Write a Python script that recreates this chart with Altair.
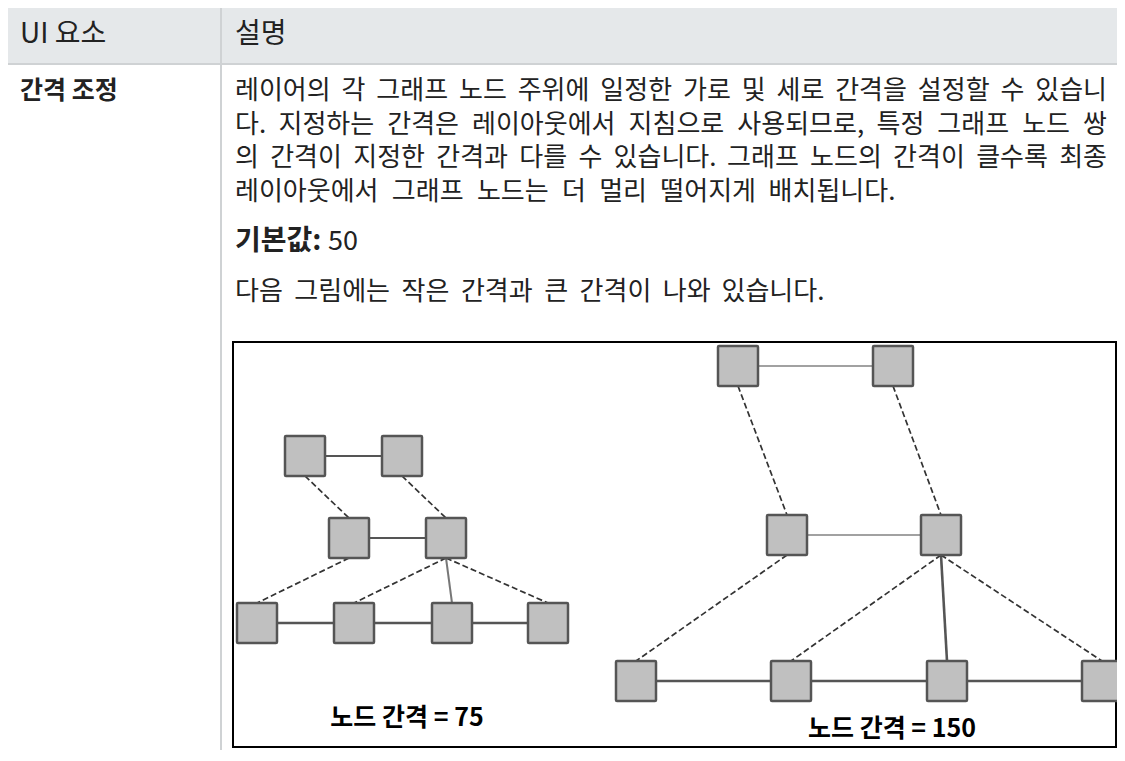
import altair as alt
import pandas as pd

# ---------------- text content ----------------
header_labels = ["UI 요소", "설명"]
row_label = "간격 조정"
para_lines = [
    "레이어의 각 그래프 노드 주위에 일정한 가로 및 세로 간격을 설정할 수 있습니",
    "다. 지정하는 간격은 레이아웃에서 지침으로 사용되므로, 특정 그래프 노드 쌍",
    "의 간격이 지정한 간격과 다를 수 있습니다. 그래프 노드의 간격이 클수록 최종",
    "레이아웃에서 그래프 노드는 더 멀리 떨어지게 배치됩니다.",
]
default_label = "기본값:"
default_value = "50"
figure_caption = "다음 그림에는 작은 간격과 큰 간격이 나와 있습니다."
diagram_labels = ["노드 간격 = 75", "노드 간격 = 150"]

# ---------------- diagram nodes (centres) ----------------
small_x = [305, 402, 349, 446, 257, 354, 452, 548]
small_y = [456, 456, 538, 538, 623, 623, 623, 623]
large_x = [738, 893, 787, 941, 636, 791, 947, 1102]
large_y = [366, 366, 535, 535, 681, 681, 681, 681]
small_size = 40
large_size = 40

edge_from = [0, 2, 4, 5, 6, 0, 1, 2, 3, 3, 3]
edge_to = [1, 3, 5, 6, 7, 2, 3, 4, 5, 6, 7]
edge_kind = ["h", "h", "h", "h", "h", "v", "v", "v", "v", "v", "v"]
small_edge_style = ["mid", "mid", "thick", "thick", "thick", "dash", "dash", "dash", "dash", "vert", "dash"]
large_edge_style = ["thin", "thin", "thick", "thick", "thick", "dash", "dash", "dash", "dash", "thick", "dash"]

# ---------------- page layout ----------------
X0, X1 = 8, 1117
Y0, Y1 = 8, 750
W, H = X1 - X0, Y1 - Y0
FONT = "Noto Sans CJK KR"
TEXT_COLOR = "#222222"
BODY_SIZE = 26

col1_x, col2_x = 20, 235
text_right = 1107
divider_x = 221
header_bottom = 64
header_y = 35
line0_y, line_gap = 91, 33.7
default_y = 242
default_value_x = 328
caption_y = 292
box = dict(x=233, x2=1116, y=342, y2=747)
label_pos = [(407, 718), (892, 729)]

xs = alt.Scale(domain=[X0, X1], range=[0, W], nice=False, zero=False)
ys = alt.Scale(domain=[Y0, Y1], range=[0, H], nice=False, zero=False)


def X(f="x"):
    return alt.X(f"{f}:Q", scale=xs, axis=None)


def Y(f="y"):
    return alt.Y(f"{f}:Q", scale=ys, axis=None)


def width_of(s, hangul, space, punct, digit):
    w = 0.0
    for c in s:
        if "\uac00" <= c <= "\ud7a3":
            w += hangul
        elif c == " ":
            w += space
        elif c in ".,":
            w += punct
        elif c.isdigit():
            w += digit
        else:
            w += 15.0
    return w


def ref_width(s):  # advance widths of the reference's font (px)
    return width_of(s, 25.7, 6.1, 7.0, 14.0)


def own_width(s):  # advance widths of the font used here at BODY_SIZE (px)
    k = BODY_SIZE
    return width_of(s, 0.92 * k, 0.224 * k, 0.25 * k, 0.55 * k)


def layout_words(s, y, justify):
    """Spread the words of a line evenly so that it spans what it spans in the reference."""
    words = s.split(" ")
    widths = [own_width(w) for w in words]
    end = text_right if justify else col2_x + ref_width(s)
    gap = (end - col2_x - sum(widths)) / max(len(words) - 1, 1)
    left, right = [], []
    pos = col2_x
    for j, (w, ww) in enumerate(zip(words, widths)):
        if j == len(words) - 1 and j > 0:
            right.append(dict(x=end, y=y, t=w))
        else:
            left.append(dict(x=pos, y=y, t=w))
        pos += ww + gap
    return left, right


# ---------------- table frame ----------------
header_bg = alt.Chart(pd.DataFrame([dict(x=X0, x2=X1, y=Y0, y2=header_bottom - 1)])).mark_rect(
    color="#e5e8ea"
).encode(x=X(), x2="x2:Q", y=Y(), y2="y2:Q")

frame_lines = pd.DataFrame([
    dict(x=X0, x2=X1, y=header_bottom, y2=header_bottom),
    dict(x=divider_x, x2=divider_x, y=Y0, y2=Y1),
])
frame = alt.Chart(frame_lines).mark_rule(color="#cfd2d4", strokeWidth=2).encode(
    x=X(), x2="x2:Q", y=Y(), y2="y2:Q"
)


def text_layer(df, **kw):
    base = dict(font=FONT, fontSize=BODY_SIZE, color=TEXT_COLOR, align="left", baseline="middle")
    base.update(kw)
    return alt.Chart(df).mark_text(**base).encode(x=X(), y=Y(), text="t:N")


header_text = text_layer(pd.DataFrame([
    dict(x=col1_x, y=header_y, t=header_labels[0]),
    dict(x=col2_x, y=header_y, t=header_labels[1]),
]), fontSize=28)
row_text = text_layer(pd.DataFrame([dict(x=col1_x, y=line0_y, t=row_label)]), fontWeight="bold", fontSize=25)

left_words, right_words = [], []
for i, s in enumerate(para_lines):
    l, r = layout_words(s, line0_y + i * line_gap, justify=(i < len(para_lines) - 1))
    left_words += l
    right_words += r
l, r = layout_words(figure_caption, caption_y, justify=False)
left_words += l
right_words += r

para_left = text_layer(pd.DataFrame(left_words))
para_right = text_layer(pd.DataFrame(right_words), align="right")

default_bold = text_layer(pd.DataFrame([dict(x=col2_x, y=default_y, t=default_label)]), fontWeight="bold", fontSize=28)
default_val = text_layer(pd.DataFrame([dict(x=default_value_x, y=default_y, t=default_value)]), fontSize=27)

# ---------------- figure box ----------------
box_layer = alt.Chart(pd.DataFrame([box])).mark_rect(
    fill="white", stroke="#000000", strokeWidth=2
).encode(x=X(), x2="x2:Q", y=Y(), y2="y2:Q")

# ---------------- graph nodes & edges ----------------
node_rows, edge_rows = [], []
for gx, gy, size, styles in [
    (small_x, small_y, small_size, small_edge_style),
    (large_x, large_y, large_size, large_edge_style),
]:
    h = size / 2
    for cx, cy in zip(gx, gy):
        node_rows.append(dict(x=cx - h, x2=cx + h, y=cy - h, y2=cy + h))
    for a, b, k, st in zip(edge_from, edge_to, edge_kind, styles):
        if k == "h":
            edge_rows.append(dict(x=gx[a] + h, y=gy[a], x2=gx[b] - h, y2=gy[b], style=st))
        else:
            edge_rows.append(dict(x=gx[a], y=gy[a] + h, x2=gx[b], y2=gy[b] - h, style=st))

nodes_df = pd.DataFrame(node_rows)
edges_df = pd.DataFrame(edge_rows)

edge_styles = {
    "thick": dict(strokeWidth=2.6, color="#555555"),
    "mid": dict(strokeWidth=2.0, color="#555555"),
    "vert": dict(strokeWidth=2.0, color="#777777"),
    "thin": dict(strokeWidth=1.2, color="#444444"),
    "dash": dict(strokeWidth=1.7, color="#333333", strokeDash=[6, 3]),
}
edge_layers = [
    alt.Chart(edges_df).transform_filter(alt.datum.style == name).mark_rule(**kw).encode(
        x=X(), y=Y(), x2="x2:Q", y2="y2:Q"
    )
    for name, kw in edge_styles.items()
]

nodes = alt.Chart(nodes_df).mark_rect(
    fill="#c0c0c0", stroke="#555555", strokeWidth=2.5, cornerRadius=1
).encode(x=X(), x2="x2:Q", y=Y(), y2="y2:Q")

labels = text_layer(pd.DataFrame([
    dict(x=p[0], y=p[1], t=t) for p, t in zip(label_pos, diagram_labels)
]), fontWeight="bold", fontSize=25, color="#000000", align="center")

chart = alt.layer(
    header_bg, frame, header_text, row_text, para_left, para_right, default_bold, default_val,
    box_layer, *edge_layers, nodes, labels
).properties(
    width=W, height=H, autosize=alt.AutoSizeParams(type="none"), padding=0
).configure_view(stroke=None)

chart.save("out.html", embed_options={"renderer": "svg", "actions": False})
